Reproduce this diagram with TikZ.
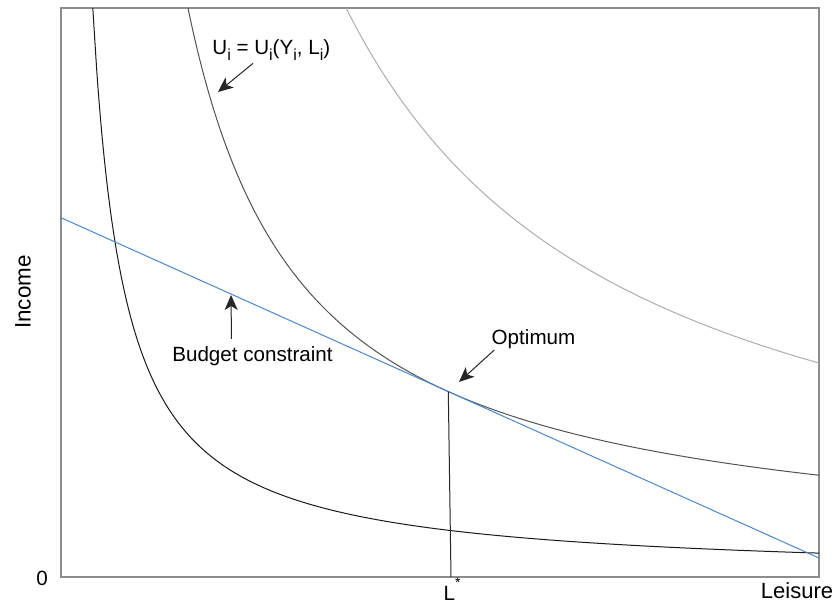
\documentclass[tikz,border=0pt]{standalone}
\usepackage{fontspec}
\setmainfont{Liberation Sans}
\usetikzlibrary{arrows.meta}
\definecolor{budgetblue}{RGB}{74,136,206}
\definecolor{framegray}{RGB}{140,140,140}
\newcommand{\lowidx}[1]{\raisebox{-0.55ex}{\fontsize{8}{9}\selectfont #1}}
\begin{document}
\begin{tikzpicture}[x=5pt, y=-5pt, every node/.style={font=\fontsize{10.3}{12}\selectfont,inner sep=0pt},
  curve/.style={line width=0.5pt,smooth,samples=160},
  pointer/.style={-{Stealth[length=7.5pt,width=6.5pt,inset=2pt]},line width=0.5pt,black!85}]
\useasboundingbox (0,0) rectangle (83.7,60.4);
\draw[framegray,line width=0.8pt] (6.1,0.8) rectangle (81.9,57.7);
\draw[curve,black!90] plot[domain=3.18:75.8] ({6.1+\x},{57.7-181/\x});
\draw[curve,black!68] plot[domain=12.7:75.8] ({6.1+\x},{57.7-1.73-629.39/(\x-1.29)});
\draw[curve,black!32] plot[domain=28.5:75.8] ({6.1+\x},{57.7-1622/\x});
\coordinate (bstart) at (6.1,21.77);
\coordinate (bend) at (81.9,55.8);
\draw[budgetblue,line width=0.5pt] (bstart) -- (bend);
\coordinate (opt) at (44.83,39.16);
\coordinate (lfoot) at (45.1,57.7);
\draw[black!85,line width=0.5pt] (opt) -- (lfoot);
\node[rotate=90,font=\fontsize{11.2}{13}\selectfont] (ylab) at (2.3,29.2) {Income};
\node (zero) at (4.2,57.8) {0};
\node[anchor=base] (lstar) at (45.2,60.1) {L\raisebox{1.2ex}{\fontsize{7}{8}\selectfont *}};
\node[anchor=base,font=\fontsize{11}{13}\selectfont] (xlab) at (79.7,59.9) {Leisure};
\node[anchor=base west] (ulab) at (21.2,5.5) {U\lowidx{i} = U\lowidx{i}(Y\lowidx{i}, L\lowidx{i})};
\node (blab) at (25.25,35.6) {Budget constraint};
\node (olab) at (53.35,33.9) {Optimum};
\coordinate (utip) at (21.8,9.2);
\coordinate (btip) at (23.1,29.5);
\coordinate (otip) at (45.9,38.2);
\draw[pointer] ([xshift=20.5pt,yshift=-1pt]ulab.south west) -- (utip);
\draw[pointer] ([xshift=-10.5pt,yshift=3.5pt]blab.north) -- (btip);
\draw[pointer] ([xshift=1.5pt,yshift=-0.5pt]olab.south west) -- (otip);
\end{tikzpicture}
\end{document}
